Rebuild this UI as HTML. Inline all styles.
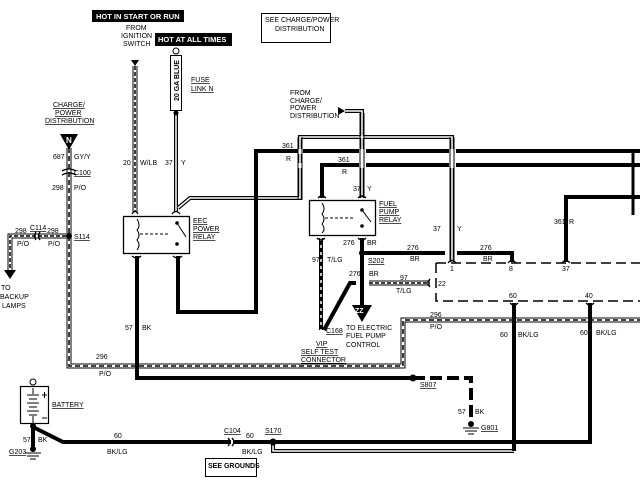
<!DOCTYPE html>
<html><head><meta charset="utf-8"><style>
html,body{margin:0;padding:0;background:#fff}
svg{display:block}
text{font-family:"Liberation Sans",sans-serif;font-size:7px;fill:#000}
.b{font-weight:bold}
.u{text-decoration:underline}
</style></head><body>
<svg width="640" height="480" viewBox="0 0 640 480" xmlns="http://www.w3.org/2000/svg">
<rect x="92" y="10" width="92" height="12" fill="#000"/>
<text x="96" y="19" class="b" style="fill:#fff;font-size:7.5px">HOT IN START OR RUN</text>
<rect x="155" y="33" width="77" height="13" fill="#000"/>
<text x="158" y="42" class="b" style="fill:#fff;font-size:7.5px">HOT AT ALL TIMES</text>
<text x="126" y="30">FROM</text><text x="121" y="38">IGNITION</text><text x="123" y="46">SWITCH</text>
<rect x="261.5" y="13.5" width="69" height="29" fill="none" stroke="#000"/>
<text x="265" y="22">SEE CHARGE/POWER</text><text x="275" y="31">DISTRIBUTION</text>

<g fill="none">
<path d="M135 66 V212" stroke="#000" stroke-width="5"/>
<path d="M135 66 V212" stroke="#fff" stroke-width="3"/>
<path d="M135 66 V212" stroke="#000" stroke-width="1.5" stroke-dasharray="4 2"/>
<path d="M69 148 V366 H403 V320 H640" stroke="#000" stroke-width="5"/>
<path d="M69 148 V366 H403 V320 H640" stroke="#fff" stroke-width="3"/>
<path d="M69 148 V366 H403 V320 H640" stroke="#000" stroke-width="1.5" stroke-dasharray="5 3"/>
<path d="M66 236 H10 V270" stroke="#000" stroke-width="5"/>
<path d="M66 236 H10 V270" stroke="#fff" stroke-width="3"/>
<path d="M66 236 H10 V270" stroke="#000" stroke-width="1.5" stroke-dasharray="4 2"/>
<path d="M369 283 H430" stroke="#000" stroke-width="5"/>
<path d="M369 283 H430" stroke="#fff" stroke-width="3"/>
<path d="M369 283 H430" stroke="#000" stroke-width="1.5" stroke-dasharray="4 2"/>
<path d="M321 238 V330" stroke="#000" stroke-width="4"/>
<path d="M321 238 V330" stroke="#fff" stroke-width="1.5" stroke-dasharray="3 4"/>

<path d="M176 115 V212 M178 208 L190 198 H300 V137 H452 V262 M345 111 H362 V198" stroke="#000" stroke-width="4"/>
<path d="M176 115 V212 M178 208 L190 198 H300 V137 H452 V262 M345 111 H362 V198" stroke="#fff" stroke-width="1.5"/>
<path d="M273 442 V451 H514" stroke="#000" stroke-width="4"/>
<path d="M273 442 V451 H514" stroke="#fff" stroke-width="1.5"/>

<path d="M178 256 V312 H256 V151 H640" stroke="#000" stroke-width="4"/>
<path d="M322 198 V165 H640" stroke="#000" stroke-width="4"/>
<path d="M566 262 V197 H640" stroke="#000" stroke-width="4"/>
<path d="M137 256 V378 H413" stroke="#000" stroke-width="4"/>
<path d="M413 378 H471 V422" stroke="#000" stroke-width="4" stroke-dasharray="12 5"/>
<path d="M362 238 V305" stroke="#000" stroke-width="4"/>
<path d="M362 253 H445 M457 253 H512 V262" stroke="#000" stroke-width="4"/>
<path d="M324 330 L350 283 H356" stroke="#000" stroke-width="4"/>
<path d="M33 427 L63 442 H231 M233 442 H590 V303" stroke="#000" stroke-width="4"/>
<path d="M514 303 V451" stroke="#000" stroke-width="4"/>
<path d="M33 427 V447" stroke="#000" stroke-width="4"/>
<path d="M633 150 V215" stroke="#000" stroke-width="3"/>
</g>
<rect x="298" y="149" width="5" height="5" fill="#fff"/><rect x="298" y="163" width="5" height="5" fill="#fff"/>
<path d="M298 137 V200 M302 137 V200" stroke="#000" stroke-width="1"/>
<rect x="359" y="149" width="7" height="19" fill="#fff"/>
<path d="M360 113 V198 M364 113 V198" stroke="#000" stroke-width="1"/>
<rect x="449" y="149" width="7" height="19" fill="#fff"/>
<path d="M450 137 V262 M454 137 V262" stroke="#000" stroke-width="1"/>

<path d="M436 263 H640 M436 263 V301 H640" fill="none" stroke="#000" stroke-width="1.5" stroke-dasharray="10 5"/>

<path d="M131 60 H139 L135 66 Z" fill="#000"/>
<path d="M4 270 H16 L10 279 Z" fill="#000"/>
<path d="M60 134 H78 L69 150 Z" fill="#000"/><text x="66" y="143" class="b" style="fill:#fff;font-size:8px">N</text>
<path d="M338 107 L338 115 L345 111 Z" fill="#000"/>
<path d="M352 305 H372 L362 322 Z" fill="#000"/><text x="355" y="313" class="b" style="fill:#fff;font-size:7px">ZZ</text>
<circle cx="176" cy="51" r="3" fill="none" stroke="#000"/>
<rect x="170.5" y="55.5" width="11" height="55" fill="#fff" stroke="#000"/>
<text transform="translate(179 101) rotate(-90)" class="b">20 GA BLUE</text>
<circle cx="176" cy="113" r="2.5" fill="#000"/>
<rect x="123.5" y="216.5" width="66" height="37" fill="#fff" stroke="#000" stroke-width="1.3"/>
<path d="M137 219 Q141 226 137 230 Q141 235 137 240 Q141 245 137 250" fill="none" stroke="#000" stroke-width="1"/>
<path d="M140 234 H168" stroke="#000" stroke-width="1" stroke-dasharray="3 2"/>
<circle cx="177" cy="223" r="1.8"/><circle cx="177" cy="244" r="1.8"/><path d="M177 223 L186 237" stroke="#000"/>
<rect x="309.5" y="200.5" width="66" height="35" fill="#fff" stroke="#000" stroke-width="1.3"/>
<path d="M322 203 Q326 209 322 214 Q326 219 322 224 Q326 229 322 233" fill="none" stroke="#000"/>
<path d="M325 218 H355" stroke="#000" stroke-dasharray="3 2"/>
<circle cx="362" cy="210" r="1.8"/><circle cx="362" cy="226" r="1.8"/><path d="M362 210 L371 222" stroke="#000"/>
<g fill="none" stroke="#000" stroke-width="1.3">
<path d="M132 214 Q135 209 138 214 M172 214 Q176 209 180 214 M132 256 Q137 260 141 256 M173 256 Q178 260 182 256"/>
<path d="M318 198 Q322 194 326 198 M358 198 Q362 194 366 198 M317 238 Q321 242 325 238 M358 238 Q362 242 366 238"/>
<path d="M448 263 Q452 258 456 263 M508 263 Q512 258 516 263 M562 263 Q566 258 570 263 M510 303 Q514 307 518 303 M586 303 Q590 307 594 303 M430 279 Q426 283 430 287"/>
<path d="M62 171 Q69 167 76 171 M62 175 Q69 171 76 175 M36 232 Q33 236 36 240 M40 232 Q37 236 40 240 M228 438 Q232 442 228 446 M232 438 Q236 442 232 446"/>
</g>
<circle cx="69" cy="236" r="3"/><circle cx="362" cy="253" r="3"/><circle cx="413" cy="378" r="3.5"/><circle cx="273" cy="442" r="3.5"/>
<circle cx="471" cy="424" r="3"/><path d="M463 428 H479 M465 431 H477 M468 434 H474" stroke="#000"/>
<circle cx="33" cy="449" r="3"/><path d="M25 453 H41 M27 456 H39 M30 459 H36" stroke="#000"/>
<circle cx="33" cy="382" r="3" fill="none" stroke="#000"/>
<rect x="20.5" y="386.5" width="28" height="37" fill="#fff" stroke="#000" stroke-width="1.2"/>
<path d="M33 388 V394 M27 395 H39 M29 399 H37 M27 403 H39 M29 407 H37 M27 411 H39 M29 415 H37 M33 416 V423 M42 395 H47 M44.5 392 V398 M42 418 H47" stroke="#000"/>
<circle cx="33" cy="426" r="3"/>
<rect x="205.5" y="458.5" width="51" height="18" fill="none" stroke="#000"/>
<text x="208" y="468" class="b">SEE GROUNDS</text>

<text x="53" y="107" class="u">CHARGE/</text><text x="55" y="115" class="u">POWER</text><text x="45" y="123" class="u">DISTRIBUTION</text>
<text x="191" y="82" class="u">FUSE</text><text x="191" y="91" class="u">LINK N</text>
<text x="53" y="159">687</text><text x="74" y="159">GY/Y</text>
<text x="74" y="175" class="u">C100</text>
<text x="52" y="190">298</text><text x="74" y="190">P/O</text>
<text x="15" y="233">298</text><text x="30" y="230" class="u">C114</text><text x="47" y="233">298</text><text x="74" y="239" class="u">S114</text>
<text x="17" y="246">P/O</text><text x="48" y="246">P/O</text>
<text x="1" y="290">TO</text><text x="0" y="299">BACKUP</text><text x="2" y="308">LAMPS</text>
<text x="123" y="165">20</text><text x="140" y="165">W/LB</text><text x="165" y="165">37</text><text x="181" y="165">Y</text>
<text x="193" y="223" class="u">EEC</text><text x="193" y="231" class="u">POWER</text><text x="193" y="239" class="u">RELAY</text>
<text x="125" y="330">57</text><text x="142" y="330">BK</text>
<text x="96" y="359">296</text><text x="99" y="376">P/O</text>
<text x="290" y="95">FROM</text><text x="290" y="103">CHARGE/</text><text x="290" y="110">POWER</text><text x="290" y="118">DISTRIBUTION</text>
<text x="282" y="148">361</text><text x="286" y="161">R</text>
<text x="338" y="162">361</text><text x="342" y="174">R</text>
<text x="353" y="191">37</text><text x="367" y="191">Y</text>
<text x="379" y="206" class="u">FUEL</text><text x="379" y="214" class="u">PUMP</text><text x="379" y="222" class="u">RELAY</text>
<text x="343" y="245">276</text><text x="367" y="245">BR</text>
<text x="368" y="263" class="u">S202</text>
<text x="312" y="262">97</text><text x="327" y="262">T/LG</text>
<text x="349" y="276">276</text><text x="369" y="276">BR</text>
<text x="400" y="280">97</text><text x="396" y="293">T/LG</text>
<text x="407" y="250">276</text><text x="410" y="261">BR</text>
<text x="480" y="250">276</text><text x="483" y="261">BR</text>
<text x="433" y="231">37</text><text x="457" y="231">Y</text>
<text x="554" y="224">361</text><text x="569" y="224">R</text>
<text x="450" y="271">1</text><text x="509" y="271">8</text><text x="562" y="271">37</text><text x="438" y="286">22</text>
<text x="509" y="298">60</text><text x="585" y="298">40</text>
<text x="430" y="317">296</text><text x="430" y="329">P/O</text>
<text x="500" y="337">60</text><text x="518" y="337">BK/LG</text>
<text x="580" y="335">60</text><text x="596" y="335">BK/LG</text>
<text x="326" y="333" class="u">C168</text>
<text x="316" y="346" class="u">VIP</text><text x="301" y="354" class="u">SELF TEST</text><text x="301" y="362" class="u">CONNECTOR</text>
<text x="346" y="330">TO ELECTRIC</text><text x="346" y="338">FUEL PUMP</text><text x="346" y="347">CONTROL</text>
<text x="420" y="387" class="u">S807</text>
<text x="458" y="414">57</text><text x="475" y="414">BK</text>
<text x="481" y="430" class="u">G801</text>
<text x="52" y="407" class="u">BATTERY</text>
<text x="23" y="442">57</text><text x="38" y="442">BK</text>
<text x="9" y="454" class="u">G203</text>
<text x="114" y="438">60</text><text x="107" y="454">BK/LG</text>
<text x="224" y="433" class="u">C104</text>
<text x="246" y="438">60</text><text x="242" y="454">BK/LG</text>
<text x="265" y="433" class="u">S170</text>
</svg>
</body></html>
